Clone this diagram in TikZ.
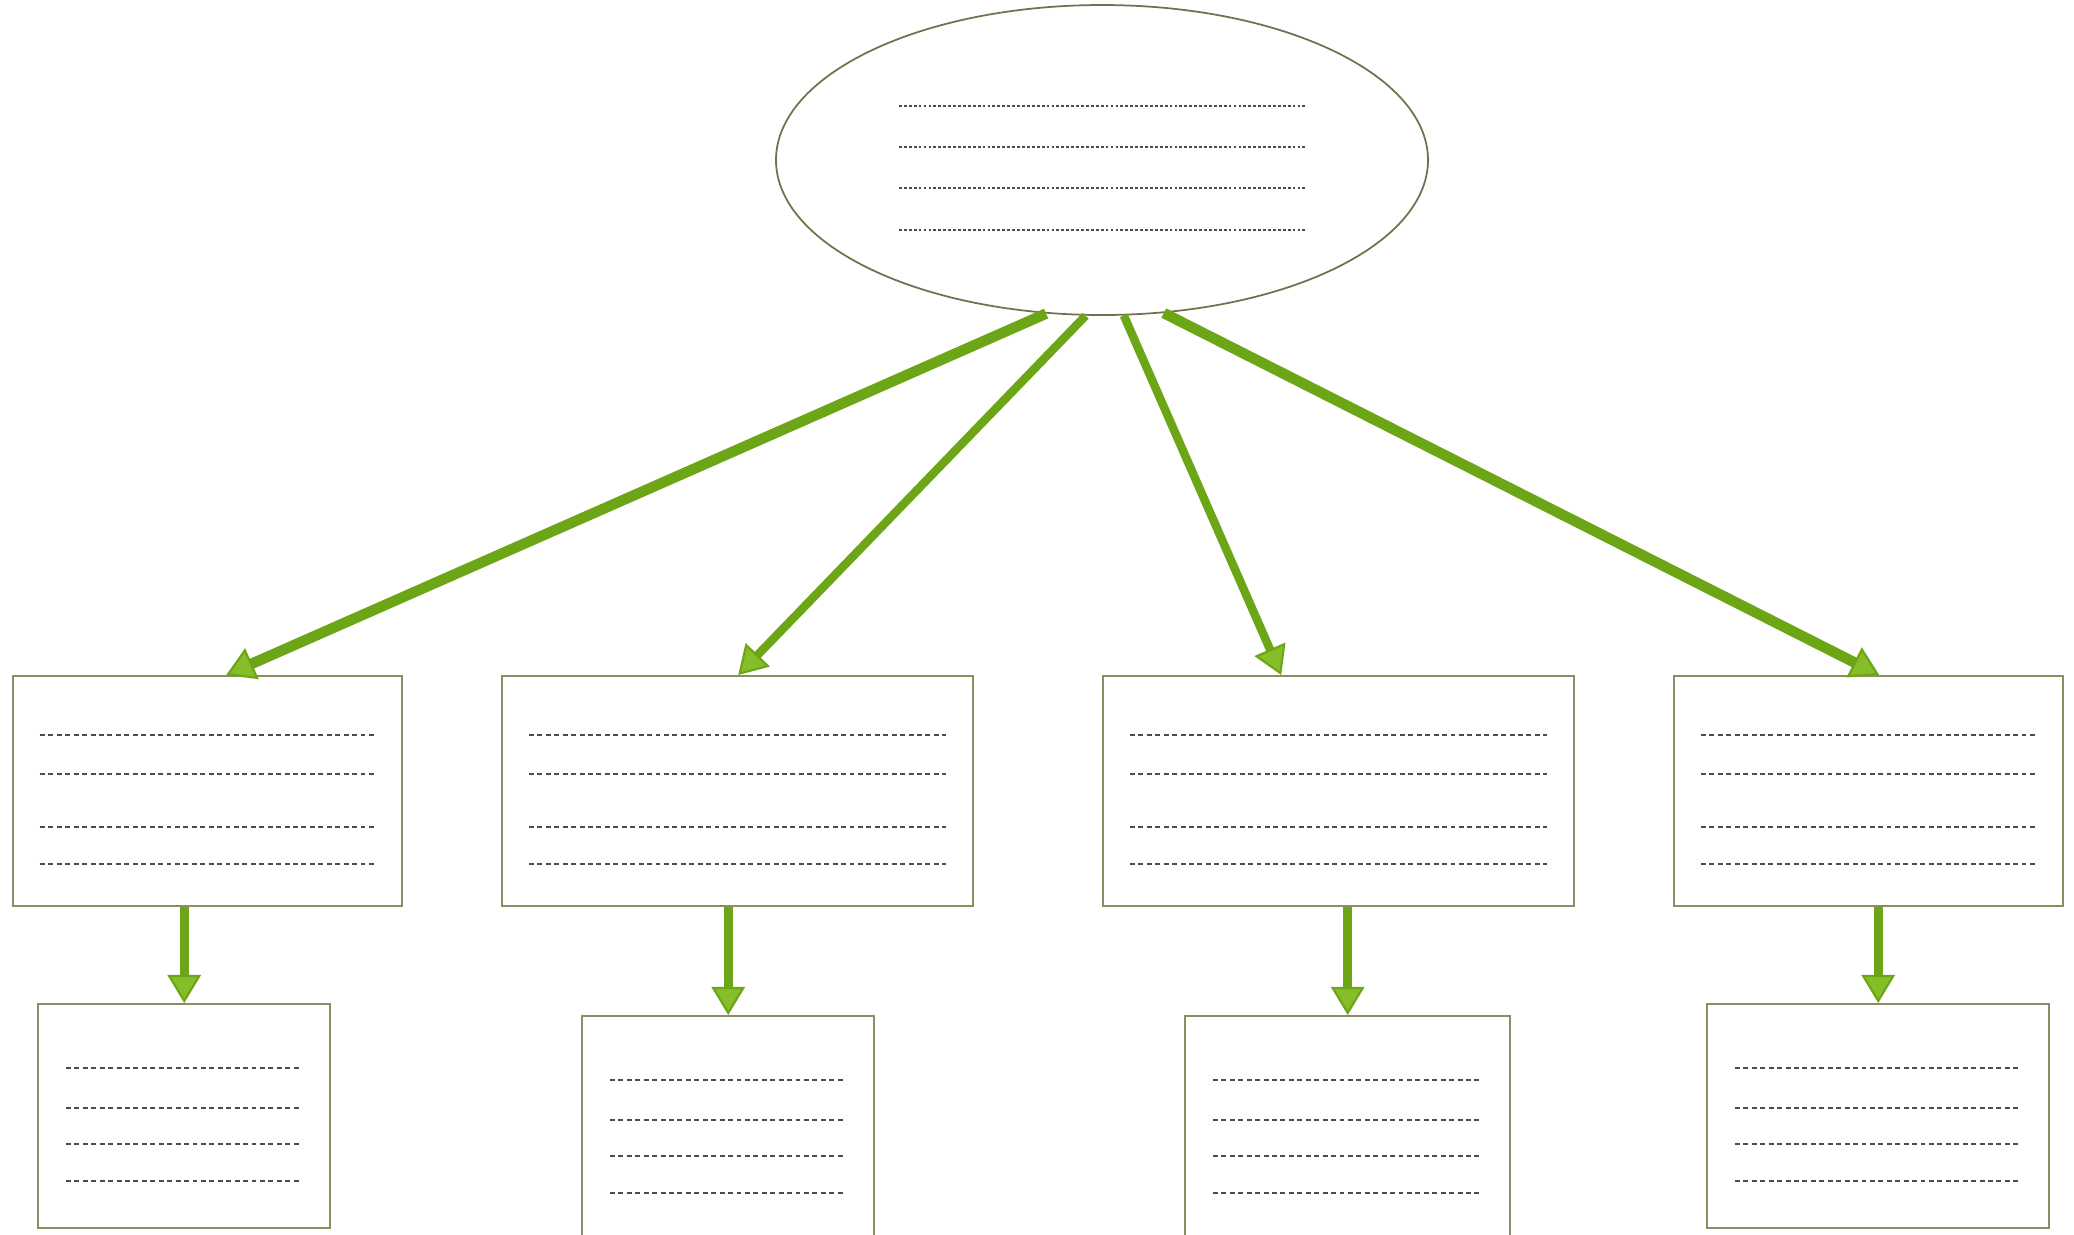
\documentclass[tikz,border=0pt]{standalone}
\usetikzlibrary{arrows.meta,shapes.geometric}
\definecolor{leaf}{HTML}{6CA515}
\definecolor{leaftip}{HTML}{86BE2A}
\definecolor{frame}{HTML}{8C8E62}
\tikzset{
  box/.style={draw=frame,line width=0.7pt,fill=white,anchor=north west,inner sep=0pt},
  bigarrow/.style={draw=leaf,line width=#1,-{Triangle[width=9.5pt,length=8pt,line width=0.6pt,fill=leaftip]}},
  rule/.style={draw=black!70,line width=0.45pt,dash pattern=on 1.4pt off 1pt},
}
\begin{document}
\begin{tikzpicture}
    \useasboundingbox (0,0) rectangle (20.74,-12.34);
    %% Top
    \node[draw=frame!80!black,line width=0.5pt,ellipse,minimum width=6.52cm,minimum height=3.10cm,inner sep=0pt] (top) at (11.02,-1.60) {};
    \foreach \o in {0.54,0.13,-0.28,-0.70}
        \draw[rule,dash pattern=on 0.8pt off 0.6pt] ([shift={(-2.03,\o)}]top.center) -- ([shift={(2.05,\o)}]top.center);
    %% Middle row
    \node[box,minimum width=3.89cm,minimum height=2.30cm] (b1) at (0.12,-6.75) {};
    \node[box,minimum width=4.71cm,minimum height=2.30cm] (b2) at (5.01,-6.75) {};
    \node[box,minimum width=4.71cm,minimum height=2.30cm] (b3) at (11.02,-6.75) {};
    \node[box,minimum width=3.89cm,minimum height=2.30cm] (b4) at (16.73,-6.75) {};
    \foreach \n in {b1,b2,b3,b4}
        \foreach \o in {0.60,0.99,1.52,1.89}
            \draw[rule] ([shift={(0.28,-\o)}]\n.north west) -- ([shift={(-0.28,-\o)}]\n.north east);
    %% Bottom row
    \node[box,minimum width=2.92cm,minimum height=2.24cm] (c1) at (0.37,-10.03) {};
    \node[box,minimum width=2.92cm,minimum height=2.45cm] (c2) at (5.81,-10.15) {};
    \node[box,minimum width=3.25cm,minimum height=2.45cm] (c3) at (11.84,-10.15) {};
    \node[box,minimum width=3.42cm,minimum height=2.24cm] (c4) at (17.06,-10.03) {};
    \foreach \n in {c1,c2,c3,c4}
        \foreach \o in {0.65,1.05,1.41,1.78}
            \draw[rule] ([shift={(0.29,-\o)}]\n.north west) -- ([shift={(-0.31,-\o)}]\n.north east);
    %% Arrows
    \draw[bigarrow=3pt] (top.250) -- ([xshift=0.185cm]b1.north);
    \draw[bigarrow=2.4pt] (top.264) -- ([xshift=0.005cm]b2.north);
    \draw[bigarrow=2.4pt] (top.278) -- ([xshift=-0.575cm]b3.north);
    \draw[bigarrow=3pt] (top.292) -- ([xshift=0.105cm]b4.north);
    \foreach \n/\m in {b1/c1,b2/c2,b3/c3,b4/c4}
        \draw[bigarrow=2.5pt] (\n.south -| \m.north) -- (\m.north);
\end{tikzpicture}
\end{document}
